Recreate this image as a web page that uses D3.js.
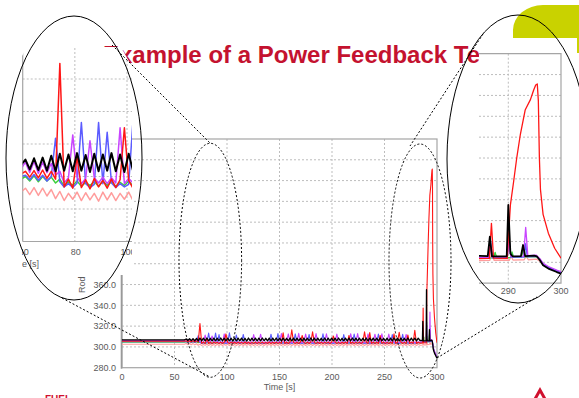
<!DOCTYPE html>
<html><head><meta charset="utf-8">
<script src="https://cdn.jsdelivr.net/npm/d3@7"></script>
<style>
html,body{margin:0;padding:0;background:#fff;}
svg{display:block;font-family:"Liberation Sans",Arial,sans-serif;}
</style></head><body>
<svg id="c" width="579" height="398"></svg>
<script>
// ---------------- DATA ----------------
const titleText = "Example of a Power Feedback Test";
const xLabel = "Time [s]";
const yLabel = "Rod Temperature [°C]";
const mainXTicks = [0, 50, 100, 150, 200, 250, 300];
const mainYTicks = [280, 300, 320, 340, 360, 380, 400, 420, 440, 460, 480, 500];
const leftXTicks = [60, 80, 100];
const leftYTicks = [300, 305, 310, 315, 320, 325];
const rightXTicks = [290, 300];
const rightYTicks = [300, 320, 340, 360, 380, 400, 420, 440, 460, 480];

// oscillating part of the transient: samples start at 59.4 s, every 1.65 s
const oscStart = 59.4, oscStep = 1.65;

const blackOsc = [
306.8,307.6,306.1,307.8,306.0,307.9,305.9,308.2,305.8,308.5,
305.9,308.4,305.8,308.6,305.9,308.3,305.7,308.5,305.8,308.4,
305.9,308.6,305.8,308.4,305.7,308.5,305.9,308.3,305.8,308.6,
305.7,308.4,305.9,308.5,305.8,308.3,305.6,308.6,305.8,308.4,
305.9,308.5,305.7,308.4,305.8,308.6,305.9,308.3,305.8,308.5,
305.7,308.4,305.9,308.6,305.8,308.4,305.7,308.5,305.9,308.3,
305.8,308.6,305.7,308.4,305.9,308.5,305.8,308.3,305.6,308.5,
305.8,308.4,305.9,308.6,305.7,308.4,305.8,308.5,305.9,308.3,
305.8,308.6,305.7,308.4,305.9,308.5,305.8,308.4,305.7,308.6,
305.9,308.3,305.8,308.5,305.7,308.4,305.9,308.6,305.8,308.4,
305.7,308.5,305.9,308.3,305.8,308.6,305.7,308.4,305.9,308.5,
305.8,308.4,305.7,308.6,305.9,308.3,305.8,308.5,305.7,308.4,
305.9,308.6,305.8,308.4,305.7,308.5,305.9,308.3,305.8,308.6,
305.7,308.4,305.9,308.5,305.8,308.4,306.0];
const redOsc = [
305.4,305.8,304.9,305.9,304.8,306.0,304.7,305.8,304.6,322.4,
303.4,304.6,303.2,308.0,303.3,304.5,303.1,304.7,303.4,304.4,
303.2,304.6,303.3,304.5,312.5,304.4,303.2,304.6,303.3,304.5,
303.1,304.6,303.4,304.4,303.2,304.7,303.3,304.5,303.1,304.4,
303.3,304.6,303.2,304.5,303.4,304.6,303.2,304.4,303.3,304.7,
303.1,304.5,303.3,304.6,303.2,304.4,303.4,313.6,303.2,304.5,
303.3,304.6,316.5,304.4,303.2,304.5,303.3,304.7,311.0,304.4,
303.2,304.6,303.3,304.5,314.5,304.4,303.1,304.6,303.3,304.5,
303.2,304.4,303.4,304.6,303.2,304.5,310.5,304.6,303.3,304.4,
303.2,304.5,303.3,304.6,303.1,311.0,303.3,304.5,303.2,304.4,
303.4,304.6,303.2,304.5,314.5,304.4,303.3,313.8,303.2,304.6,
303.3,304.5,303.1,311.0,303.3,304.6,303.2,304.4,303.3,304.5,
303.2,312.5,303.3,304.6,314.0,304.5,303.3,304.4,303.2,311.5,
303.3,304.6,303.2,316.0,303.3,304.5,303.5];
const pinkOsc = [
302.6,303.2,302.2,303.3,302.1,303.2,302.0,303.0,301.6,302.7,
301.3,302.4,301.5,302.6,301.3,302.5,301.4,302.4,301.2,302.6,
301.4,302.5,301.3,302.4,301.5,302.6,301.3,302.5,301.4,302.4,
301.2,302.6,301.4,302.5,301.3,302.4,301.5,302.6,301.3,302.5,
301.4,302.4,301.2,302.6,301.4,302.5,301.3,302.4,301.5,302.6,
301.3,302.5,301.4,302.4,301.2,302.6,301.4,302.5,301.3,302.4,
301.5,302.6,301.3,302.5,301.4,302.4,301.2,302.6,301.4,302.5,
301.3,302.4,301.5,302.6,301.3,302.5,301.4,302.4,301.2,302.6,
301.4,302.5,301.3,302.4,301.5,302.6,301.3,302.5,301.4,302.4,
301.2,302.6,301.4,302.5,301.3,302.4,301.5,302.6,301.3,302.5,
301.4,302.4,301.2,302.6,301.4,302.5,301.3,302.4,301.5,302.6,
301.3,302.5,301.4,302.4,301.2,302.6,301.4,302.5,301.3,302.4,
301.5,302.6,301.3,302.5,301.4,302.4,301.2,302.6,301.4,302.5,
301.3,302.4,301.5,302.6,301.3,302.5,301.6];
const blueOsc = [
305.0,305.2,304.5,305.3,304.4,305.2,304.3,305.0,310.9,304.2,
303.4,303.9,303.3,304.0,313.3,303.9,303.3,303.8,313.3,303.9,
311.8,304.0,303.3,303.9,303.4,303.8,313.6,303.9,303.3,304.0,
311.5,303.9,303.4,303.8,312.0,303.9,303.3,304.0,303.4,303.8,
303.3,303.9,303.4,304.0,303.3,303.8,303.4,303.9,303.3,304.0,
312.2,303.9,303.3,303.8,312.8,304.0,303.4,303.9,303.3,303.8,
303.4,303.9,303.3,304.0,312.5,303.9,303.4,303.8,303.3,303.9,
303.4,304.0,312.0,303.9,303.3,303.8,303.4,303.9,303.3,304.0,
312.6,303.9,303.4,303.8,303.3,303.9,303.4,304.0,303.3,303.9,
303.4,303.8,311.8,303.9,303.3,304.0,303.4,303.9,312.4,303.8,
303.3,303.9,303.4,304.0,303.3,303.9,303.4,303.8,303.3,303.9,
303.4,304.0,312.3,303.9,303.3,303.8,303.4,303.9,303.3,304.0,
311.9,303.9,303.4,303.8,303.3,303.9,312.1,304.0,303.3,303.9,
303.4,303.8,303.3,303.9,303.4,304.0,304.2];
const magentaOsc = [
306.2,307.2,305.6,307.3,305.5,307.2,305.6,307.0,305.2,305.8,
304.0,304.8,311.4,304.9,303.9,304.7,310.5,304.8,304.0,304.9,
303.9,304.8,304.0,312.5,303.9,304.7,304.0,304.8,303.9,304.9,
304.0,304.8,303.9,304.7,304.0,304.9,303.9,304.8,304.0,304.7,
311.8,304.8,303.9,304.9,312.2,304.7,304.0,304.8,303.9,304.9,
304.0,304.8,303.9,304.7,304.0,304.8,312.9,304.9,303.9,304.8,
312.5,304.7,304.0,304.9,303.9,304.8,313.1,304.7,304.0,304.9,
312.3,304.8,303.9,304.7,304.0,304.8,312.8,304.9,303.9,304.7,
304.0,304.8,312.6,304.9,303.9,304.7,304.0,304.8,312.4,304.9,
304.0,304.7,303.9,304.8,304.0,304.9,312.7,304.8,303.9,304.7,
312.9,304.8,304.0,304.9,303.9,304.7,312.5,304.8,304.0,304.9,
312.2,304.8,303.9,304.7,312.6,304.8,304.0,304.9,312.3,304.7,
304.0,304.8,303.9,304.9,304.0,304.7,303.9,304.8,312.0,304.9,
304.0,304.7,303.9,304.8,304.0,304.9,304.5];
const greenOsc = [
304.6,305.0,304.3,305.1,304.2,305.0,304.3,304.9,304.0,304.6,
303.5,304.2,303.6,304.3,303.5,304.1,303.6,304.2,303.5,304.3,
303.6,304.2,303.5,304.1,303.6,304.3,303.5,304.2,303.6,304.1,
303.5,304.3,303.6,304.2,303.5,304.1,303.6,304.3,303.5,304.2,
303.6,304.1,303.5,304.3,303.6,304.2,303.5,304.1,303.6,304.3,
303.5,304.2,303.6,304.1,303.5,304.3,303.6,304.2,303.5,304.1,
303.6,304.3,303.5,304.2,303.6,304.1,303.5,304.3,303.6,304.2,
303.5,304.1,303.6,304.3,303.5,304.2,303.6,304.1,303.5,304.3,
303.6,304.2,303.5,304.1,303.6,304.3,303.5,304.2,303.6,304.1,
303.5,304.3,303.6,304.2,303.5,304.1,303.6,304.3,303.5,304.2,
303.6,304.1,303.5,304.3,303.6,304.2,303.5,304.1,303.6,304.3,
303.5,304.2,303.6,304.1,303.5,304.3,303.6,304.2,303.5,304.1,
303.6,304.3,303.5,304.2,303.6,304.1,303.5,304.3,303.6,304.2,
303.5,304.1,303.6,304.3,303.5,304.2,304.0];

// final power excursion, [time s, value]
const blackTail = [[284.5,306.2],[286.1,306.0],[286.5,324.6],[286.9,305.8],[289.7,305.8],[290.0,355.0],[290.4,308.3],[290.8,305.8],[292.4,305.9],[292.8,316.6],[293.2,305.9],[294.9,306.5],[295.4,305.8],[296.0,302.0],[296.6,297.2],[297.6,294.0],[299.2,290.7],[300.0,289.2]];
const redTail = [[284.5,303.6],[286.4,303.8],[286.8,337.4],[287.2,304.0],[289.8,303.8],[290.1,330.0],[290.4,355.0],[291.0,377.0],[291.6,400.0],[292.3,423.0],[293.2,446.0],[294.2,456.0],[294.8,465.0],[295.2,470.0],[295.5,471.0],[295.7,455.0],[295.9,400.0],[296.1,370.0],[296.6,346.0],[297.6,328.0],[298.8,313.5],[300.0,304.0]];
const pinkTail = [[284.5,301.6],[286.5,301.8],[286.9,310.0],[287.3,302.0],[290.2,302.0],[290.5,306.0],[290.9,302.2],[293.0,302.5],[293.4,306.0],[293.8,302.5],[295.4,303.0],[296.0,301.0],[296.6,297.5],[297.6,294.5],[299.2,291.0],[300.0,290.0]];
const blueTail = [[284.5,304.0],[286.3,304.2],[286.6,321.0],[287.0,304.3],[289.8,304.3],[290.1,324.0],[290.5,305.0],[293.0,305.0],[293.3,318.0],[293.6,305.3],[295.4,305.8],[296.0,302.8],[296.6,298.5],[297.6,295.2],[299.2,291.5],[300.0,290.2]];
const magentaTail = [[284.5,304.8],[286.2,304.8],[286.5,316.0],[286.9,305.0],[289.8,305.0],[290.1,320.0],[290.5,305.5],[292.9,306.0],[293.3,333.6],[293.7,306.5],[295.3,306.8],[296.0,303.5],[296.6,299.0],[297.6,296.0],[299.2,292.5],[300.0,291.0]];
const greenTail = [[284.5,304.0],[287.2,304.3],[287.5,309.5],[287.8,304.4],[290.4,304.5],[290.7,310.0],[291.0,305.0],[292.5,305.0],[292.8,312.0],[293.1,305.2],[295.4,305.5],[296.0,302.5],[296.6,298.0],[297.6,295.0],[299.2,291.2],[300.0,290.0]];

const seriesNames = ["pink", "green", "blue", "magenta", "red", "black"];
const seriesColors = ["#ff9c9c", "#3ccf3c", "#5b5bff", "#c844ff", "#ff1616", "#000000"];

// ---------------- BUILD ----------------
const oscByName = {pink: pinkOsc, green: greenOsc, blue: blueOsc, magenta: magentaOsc, red: redOsc, black: blackOsc};
const tailByName = {pink: pinkTail, green: greenTail, blue: blueTail, magenta: magentaTail, red: redTail, black: blackTail};
const series = seriesNames.map((n, k) => {
  const osc = oscByName[n];
  const pts = [[0, osc[0]]].concat(osc.map((v, i) => [oscStart + i * oscStep, v]), tailByName[n]);
  return {name: n, color: seriesColors[k], pts};
});

const svg = d3.select("#c");
const defs = svg.append("defs");
function clip(id, x, y, w, h) {
  defs.append("clipPath").attr("id", id).append("rect").attr("x", x).attr("y", y).attr("width", w).attr("height", h);
  return "url(#" + id + ")";
}
const gridCol = "#bdbdbd", frameCol = "#a5a5a5", tickCol = "#5a5a5a";

// title
svg.append("text").attr("x", 103).attr("y", 63).attr("font-size", 24).attr("font-weight", "bold")
  .attr("fill", "#c4122f").text(titleText);

// ---------------- MAIN CHART ----------------
const mx = d3.scaleLinear().domain([0, 300]).range([122, 437]);
const my = d3.scaleLinear().domain([280, 500]).range([367.7, 139]);
const gm = svg.append("g");
gm.append("g").selectAll("line").data(mainXTicks.slice(1, -1)).join("line")
  .attr("x1", d => mx(d)).attr("x2", d => mx(d)).attr("y1", my(500)).attr("y2", my(280))
  .attr("stroke", gridCol).attr("stroke-dasharray", "2,2");
gm.append("g").selectAll("line").data(mainYTicks.slice(1, -1)).join("line")
  .attr("x1", mx(0)).attr("x2", mx(300)).attr("y1", d => my(d)).attr("y2", d => my(d))
  .attr("stroke", gridCol).attr("stroke-dasharray", "2,2");
gm.append("rect").attr("x", mx(0)).attr("y", my(500)).attr("width", mx(300) - mx(0)).attr("height", my(280) - my(500))
  .attr("fill", "none").attr("stroke", frameCol).attr("stroke-width", 1.2);
gm.append("line").attr("x1", mx(0) - 0.5).attr("x2", mx(0) - 0.5).attr("y1", my(500)).attr("y2", my(280) + 1)
  .attr("stroke", "#999").attr("stroke-width", 1.6);
gm.append("g").selectAll("text").data(mainXTicks).join("text")
  .attr("x", d => mx(d)).attr("y", 380).attr("text-anchor", "middle").attr("font-size", 9).attr("fill", tickCol).text(d => d);
gm.append("g").selectAll("text").data(mainYTicks).join("text")
  .attr("x", 116).attr("y", d => my(d) + 3.3).attr("text-anchor", "end").attr("font-size", 9).attr("fill", tickCol).text(d => d.toFixed(1));
gm.append("text").attr("x", (mx(0) + mx(300)) / 2).attr("y", 390).attr("text-anchor", "middle").attr("font-size", 9).attr("fill", tickCol).text(xLabel);
gm.append("text").attr("transform", "translate(85,293) rotate(-90)").attr("font-size", 9).attr("fill", tickCol).text(yLabel);
const mainLine = d3.line().x(d => mx(d[0])).y(d => my(d[1]));
gm.append("g").attr("clip-path", clip("cm", mx(0), my(500), mx(300) - mx(0), my(280) - my(500)))
  .selectAll("path").data(series).join("path")
  .attr("d", d => mainLine(d.pts)).attr("fill", "none").attr("stroke", d => d.color)
  .attr("stroke-width", d => d.name === "black" ? 1.3 : 1.1).attr("stroke-linejoin", "round");

// ---------------- LEFT INSET (60-100 s) ----------------
const lx = d3.scaleLinear().domain([60, 100]).range([22.7, 127]);
const ly = d3.scaleLinear().domain([295, 325]).range([241.5, 46.5]);
defs.append("clipPath").attr("id", "cle").append("ellipse")
  .attr("cx", 74).attr("cy", 175).attr("rx", 78).attr("ry", 160);
const glOuter = svg.append("g").attr("clip-path", "url(#cle)");
const gl = glOuter.append("g").attr("clip-path", clip("cl", 22, 47, 110, 228));
gl.append("rect").attr("x", 22).attr("y", 47).attr("width", 110).attr("height", 228).attr("fill", "#fff");
gl.append("g").selectAll("line").data(leftYTicks).join("line")
  .attr("x1", lx(60)).attr("x2", 140).attr("y1", d => ly(d)).attr("y2", d => ly(d))
  .attr("stroke", gridCol).attr("stroke-dasharray", "2,2");
gl.append("g").selectAll("line").data(leftXTicks.slice(1)).join("line")
  .attr("x1", d => lx(d)).attr("x2", d => lx(d)).attr("y1", 40).attr("y2", ly(295))
  .attr("stroke", gridCol).attr("stroke-dasharray", "2,2");
gl.append("line").attr("x1", lx(60)).attr("x2", lx(60)).attr("y1", 40).attr("y2", ly(295)).attr("stroke", frameCol).attr("stroke-width", 1.2);
gl.append("line").attr("x1", lx(60)).attr("x2", 140).attr("y1", ly(295)).attr("y2", ly(295)).attr("stroke", frameCol).attr("stroke-width", 1.2);
gl.append("g").selectAll("text").data(leftXTicks).join("text")
  .attr("x", d => lx(d) + 1).attr("y", 255).attr("text-anchor", "middle").attr("font-size", 9).attr("fill", tickCol).text(d => d);
gl.append("text").attr("x", 39).attr("y", 267).attr("text-anchor", "end").attr("font-size", 9).attr("fill", tickCol).text(xLabel);
const leftLine = d3.line().x(d => lx(d[0])).y(d => ly(d[1]));
gl.append("g").attr("clip-path", clip("cl2", lx(60), 40, 140, ly(295) - 40))
  .selectAll("path").data(series).join("path")
  .attr("d", d => leftLine(d.pts.filter(p => p[0] >= 50 && p[0] <= 110))).attr("fill", "none").attr("stroke", d => d.color)
  .attr("stroke-width", d => d.name === "black" ? 2 : 1.5).attr("stroke-linejoin", "round");

// ---------------- RIGHT INSET (284-300 s) ----------------
const rx = d3.scaleLinear().domain([290, 300]).range([508.3, 561]);
const ry = d3.scaleLinear().domain([280, 500]).range([283.2, 53.7]);
const gr = svg.append("g");
gr.append("rect").attr("x", 479).attr("y", 40).attr("width", 100).attr("height", 260).attr("fill", "#fff");
gr.append("g").selectAll("line").data(rightYTicks).join("line")
  .attr("x1", 479).attr("x2", rx(300)).attr("y1", d => ry(d)).attr("y2", d => ry(d))
  .attr("stroke", gridCol).attr("stroke-dasharray", "2,2");
gr.append("line").attr("x1", rx(290)).attr("x2", rx(290)).attr("y1", ry(500)).attr("y2", ry(280))
  .attr("stroke", gridCol).attr("stroke-dasharray", "2,2");
gr.append("path").attr("d", `M479,${ry(500)}H${rx(300)}V${ry(280)}H479`).attr("fill", "none").attr("stroke", frameCol).attr("stroke-width", 1.2);
gr.append("g").selectAll("text").data(rightXTicks).join("text")
  .attr("x", d => rx(d)).attr("y", 294).attr("text-anchor", "middle").attr("font-size", 9).attr("fill", tickCol).text(d => d);
const rightLine = d3.line().x(d => rx(d[0])).y(d => ry(d[1]));
gr.append("g").attr("clip-path", clip("cr", 479, ry(500), rx(300) - 479, ry(280) - ry(500)))
  .selectAll("path").data(series).join("path")
  .attr("d", d => rightLine(d.pts.filter(p => p[0] >= 280))).attr("fill", "none").attr("stroke", d => d.color)
  .attr("stroke-width", d => d.name === "black" ? 1.8 : 1.3).attr("stroke-linejoin", "round");

// ---------------- SLIDE DECORATION ----------------
svg.append("path").attr("d", "M513,38 L513,30 A30,25 0 0 1 543,5 L579,5 L579,53 L577,53 L577,38 Z").attr("fill", "#c9d200");
svg.append("text").attr("x", 45).attr("y", 403).attr("font-size", 10).attr("font-weight", "bold").attr("fill", "#d0102e").text("FUEL");
svg.append("path").attr("d", "M534.5,400 L540,390 L545.5,400").attr("fill", "none").attr("stroke", "#d0102e").attr("stroke-width", 3);

// magnifier ellipses and connectors
svg.append("ellipse").attr("cx", 74).attr("cy", 158).attr("rx", 68).attr("ry", 142).attr("fill", "none").attr("stroke", "#000").attr("stroke-width", 1);
svg.append("ellipse").attr("cx", 518).attr("cy", 159).attr("rx", 71).attr("ry", 144).attr("fill", "none").attr("stroke", "#000").attr("stroke-width", 1);
svg.append("ellipse").attr("cx", 210.3).attr("cy", 260.3).attr("rx", 31.3).attr("ry", 117).attr("fill", "none").attr("stroke", "#000").attr("stroke-width", 1).attr("stroke-dasharray", "2,2");
svg.append("ellipse").attr("cx", 420).attr("cy", 261).attr("rx", 31).attr("ry", 117).attr("fill", "none").attr("stroke", "#000").attr("stroke-width", 1).attr("stroke-dasharray", "2,2");
const connectors = [[112, 45, 210, 143], [62, 298, 210, 377], [483, 34, 410, 146], [437, 358, 537, 297]];
svg.append("g").selectAll("line").data(connectors).join("line")
  .attr("x1", d => d[0]).attr("y1", d => d[1]).attr("x2", d => d[2]).attr("y2", d => d[3])
  .attr("stroke", "#000").attr("stroke-width", 1).attr("stroke-dasharray", "2,2");
</script>
</body></html>
